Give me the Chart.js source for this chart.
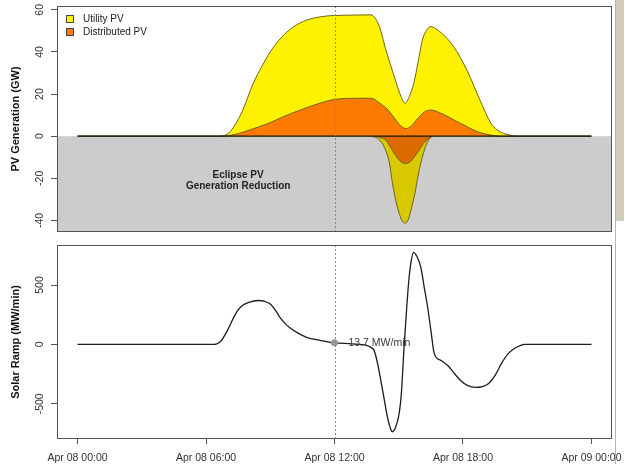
<!DOCTYPE html>
<html>
<head>
<meta charset="utf-8">
<script src="https://cdn.jsdelivr.net/npm/chart.js@4.4.1/dist/chart.umd.min.js"></script>
<style>
  body { margin: 0; background: #fff; width: 625px; height: 464px; overflow: hidden; position: relative; }
  #top_wrap { position: absolute; left: 0; top: 0; width: 625px; height: 240px; }
  #bottom_wrap { position: absolute; left: 0; top: 240px; width: 625px; height: 224px; }
  #edge_line { position: absolute; left: 615px; top: 0; width: 1px; height: 464px; background: #b5b5b5; }
  #edge_band { position: absolute; left: 616px; top: 0; width: 8px; height: 221px; background: #cfccb8; }
</style>
</head>
<body>
<div id="top_wrap"><canvas id="pv_generation" width="625" height="240"></canvas></div>
<div id="bottom_wrap"><canvas id="solar_ramp" width="625" height="224"></canvas></div>
<div id="edge_band"></div>
<div id="edge_line"></div>
<script>
// --- data (hours since Apr 08 00:00) ---
const utility_hours = [0, 6.5, 7.0, 7.3, 7.7, 8.2, 8.6, 9.0, 9.4, 9.9, 10.4, 11.0, 11.6, 12.0, 13.0, 13.7, 13.9, 14.1, 14.4, 14.8, 15.1, 15.3, 15.5, 15.7, 15.9, 16.1, 16.35, 16.5, 16.8, 17.2, 17.6, 18.2, 18.8, 19.3, 19.6, 19.9, 20.3, 20.5, 24];
const utility_gw = [0, 0, 1, 4.5, 12, 25, 33, 40, 45.5, 50.5, 53.8, 56, 57, 57.3, 57.5, 57.6, 56, 52, 41, 28, 19, 15.7, 19, 25, 35, 45.5, 51, 52, 50.5, 47, 42, 31, 17, 6.2, 2.9, 1.3, 0.3, 0, 0];

const distributed_hours = [0, 6.8, 7.2, 7.6, 8.2, 8.9, 9.6, 10.4, 11.2, 12.0, 13.0, 13.7, 14.1, 14.5, 14.8, 15.1, 15.35, 15.6, 15.9, 16.2, 16.5, 16.9, 17.6, 18.1, 18.5, 18.9, 19.3, 19.7, 24];
const distributed_gw = [0, 0, 0.5, 1.5, 3.5, 6, 9.2, 12.4, 15.3, 17.4, 18, 18, 15.8, 12.4, 8.5, 4.8, 3.6, 5, 8.5, 11.5, 12.4, 11.2, 7.6, 5, 2.9, 1.4, 0.5, 0, 0];

const eclipse_total_hours = [13.7, 14.0, 14.2, 14.4, 14.55, 14.7, 14.85, 15.0, 15.15, 15.3, 15.45, 15.6, 15.75, 15.9, 16.05, 16.2, 16.35, 16.5, 16.6];
const eclipse_total_gw = [0, -1, -3, -7, -12, -22, -30, -36, -40, -41.3, -39.5, -34, -27.5, -19, -12, -6.5, -2.5, -0.5, 0];

const eclipse_dist_hours = [13.9, 14.2, 14.4, 14.7, 14.95, 15.15, 15.35, 15.55, 15.75, 15.95, 16.15, 16.3, 16.5, 16.6];
const eclipse_dist_gw = [0, -0.8, -1.9, -6.7, -10.5, -12.5, -13, -12, -9.5, -6.7, -3.5, -1.9, -0.3, 0];

const ramp_hours = [0, 6.4, 6.7, 7.0, 7.3, 7.5, 7.7, 8.0, 8.45, 8.75, 9.0, 9.25, 9.45, 9.7, 9.9, 10.3, 10.7, 11.3, 12.0, 12.8, 13.5, 13.7, 13.85, 14.0, 14.16, 14.3, 14.47, 14.6, 14.7, 14.85, 15.02, 15.12, 15.24, 15.35, 15.47, 15.58, 15.69, 15.85, 16.03, 16.2, 16.35, 16.5, 16.66, 16.97, 17.3, 17.6, 17.9, 18.2, 18.6, 18.9, 19.2, 19.5, 19.8, 20.1, 20.4, 20.7, 20.85, 24];
const ramp_mw_min = [0, 0, 30, 118, 230, 290, 328, 355, 370, 362, 340, 285, 227, 175, 143, 95, 60, 35, 13.7, 5, -8, -25, -50, -150, -300, -440, -610, -700, -735, -700, -580, -420, -50, 250, 538, 700, 775, 740, 650, 470, 313, 120, -77, -134, -180, -245, -305, -345, -362, -355, -328, -260, -160, -80, -34, -8, 0, 0];

const noon_marker = { hour: 12, value: 13.7, text: '13.7 MW/min' };

const x_tick_hours = [0, 6, 12, 18, 24];
const x_tick_labels = ['Apr 08 00:00', 'Apr 08 06:00', 'Apr 08 12:00', 'Apr 08 18:00', 'Apr 09 00:00'];
const pv_y_ticks = [-40, -20, 0, 20, 40, 60];
const ramp_y_ticks = [-500, 0, 500];

const legend_labels = ['Utility PV', 'Distributed PV'];
const legend_colors = ['#fff200', '#ff7a00'];

// --- helpers ---
const font_family = '"Liberation Sans", Arial, sans-serif';
const outline = '#6e6320';
const pts = (hs, vs) => hs.map((h, i) => ({ x: h, y: vs[i] }));

const frame_plugin = {
  id: 'frame_plugin',
  afterDraw(chart) {
    const { ctx, chartArea: a } = chart;
    ctx.save();
    ctx.strokeStyle = '#555';
    ctx.lineWidth = 1;
    ctx.strokeRect(Math.round(a.left) + 0.5, Math.round(a.top) + 0.5, Math.round(a.right - a.left) - 1, Math.round(a.bottom - a.top) - 1);
    ctx.restore();
  }
};

const rotated_y_labels = {
  id: 'rotated_y_labels',
  afterDraw(chart) {
    const ctx = chart.ctx;
    const y = chart.scales.y;
    ctx.save();
    ctx.font = `10.5px ${font_family}`;
    ctx.fillStyle = '#333';
    ctx.textAlign = 'center';
    ctx.textBaseline = 'middle';
    y.ticks.forEach(t => {
      ctx.save();
      ctx.translate(40, y.getPixelForValue(t.value));
      ctx.rotate(-Math.PI / 2);
      ctx.fillText(String(t.value), 0, 0);
      ctx.restore();
    });
    ctx.restore();
  }
};

const noon_line = {
  id: 'noon_line',
  afterDatasetsDraw(chart) {
    const { ctx, chartArea: a } = chart;
    const px = Math.round(chart.scales.x.getPixelForValue(12)) + 0.5;
    ctx.save();
    ctx.strokeStyle = '#8a8a8a';
    ctx.lineWidth = 1;
    ctx.setLineDash([2, 2]);
    ctx.beginPath();
    ctx.moveTo(px, a.top);
    ctx.lineTo(px, a.bottom);
    ctx.stroke();
    ctx.restore();
  }
};

const reduction_shade = {
  id: 'reduction_shade',
  beforeDatasetsDraw(chart) {
    const { ctx, chartArea: a } = chart;
    const y0 = chart.scales.y.getPixelForValue(0);
    ctx.save();
    ctx.fillStyle = '#cccccc';
    ctx.fillRect(a.left, y0, a.right - a.left, a.bottom - y0);
    ctx.font = `bold 10px ${font_family}`;
    ctx.fillStyle = '#222';
    ctx.textAlign = 'center';
    ctx.textBaseline = 'middle';
    const cx = chart.scales.x.getPixelForValue(7.5);
    ctx.fillText('Eclipse PV', cx, chart.scales.y.getPixelForValue(-18.6));
    ctx.fillText('Generation Reduction', cx, chart.scales.y.getPixelForValue(-23.9));
    ctx.restore();
  }
};

const pv_legend = {
  id: 'pv_legend',
  afterDatasetsDraw(chart) {
    const { ctx, chartArea: a } = chart;
    ctx.save();
    ctx.font = `10px ${font_family}`;
    ctx.textAlign = 'left';
    ctx.textBaseline = 'middle';
    legend_labels.forEach((t, i) => {
      const cy = a.top + 13 + i * 13;
      ctx.fillStyle = legend_colors[i];
      ctx.fillRect(a.left + 9.5, cy - 3.5, 7, 7);
      ctx.strokeStyle = '#444';
      ctx.lineWidth = 1;
      ctx.strokeRect(a.left + 9.5, cy - 3.5, 7, 7);
      ctx.fillStyle = '#222';
      ctx.fillText(t, a.left + 26, cy);
    });
    ctx.restore();
  }
};

const marker_text = {
  id: 'marker_text',
  afterDatasetsDraw(chart) {
    const ctx = chart.ctx;
    const px = chart.scales.x.getPixelForValue(noon_marker.hour);
    const py = chart.scales.y.getPixelForValue(noon_marker.value);
    ctx.save();
    ctx.font = `10.5px ${font_family}`;
    ctx.fillStyle = '#3a3a3a';
    ctx.textAlign = 'left';
    ctx.textBaseline = 'middle';
    ctx.fillText(noon_marker.text, px + 14, py);
    ctx.restore();
  }
};

const y_axis = (min, max, ticks, title) => ({
  type: 'linear',
  min: min,
  max: max,
  afterBuildTicks: (s) => { s.ticks = ticks.map(v => ({ value: v })); },
  afterFit: (s) => { s.width = 57; },
  ticks: { display: false },
  grid: { drawOnChartArea: false, drawTicks: true, tickLength: 6, color: '#555' },
  border: { display: false },
  title: { display: true, text: title, color: '#111', font: { family: font_family, size: 11, weight: 'bold' }, padding: { top: 9, bottom: 0 } }
});

// --- top chart: PV generation ---
new Chart(document.getElementById('pv_generation'), {
  type: 'line',
  data: {
    datasets: [
      { label: 'Utility PV', data: pts(utility_hours, utility_gw), backgroundColor: legend_colors[0], borderColor: outline, borderWidth: 1, fill: 'origin', order: 3 },
      { label: 'Distributed PV', data: pts(distributed_hours, distributed_gw), backgroundColor: legend_colors[1], borderColor: outline, borderWidth: 1, fill: 'origin', order: 2 },
      { label: 'Eclipse utility', data: pts(eclipse_total_hours, eclipse_total_gw), backgroundColor: '#d8c800', borderColor: outline, borderWidth: 1, fill: 'origin', order: 3 },
      { label: 'Eclipse distributed', data: pts(eclipse_dist_hours, eclipse_dist_gw), backgroundColor: '#dd6a00', borderColor: outline, borderWidth: 1, fill: 'origin', order: 2 },
      { label: 'zero', data: pts([0, 24], [0, 0]), borderColor: '#111', borderWidth: 1.2, fill: false, order: 0 }
    ]
  },
  options: {
    responsive: false,
    animation: false,
    events: [],
    elements: { point: { radius: 0 }, line: { cubicInterpolationMode: 'monotone' } },
    layout: { padding: { top: 6, right: 13, bottom: 8, left: 0 } },
    scales: {
      x: { type: 'linear', min: -0.96, max: 24.96, display: false },
      y: y_axis(-45.5, 61.8, pv_y_ticks, 'PV Generation (GW)')
    },
    plugins: { legend: { display: false }, tooltip: { enabled: false } }
  },
  plugins: [reduction_shade, noon_line, pv_legend, frame_plugin, rotated_y_labels]
});

// --- bottom chart: solar ramp ---
new Chart(document.getElementById('solar_ramp'), {
  type: 'line',
  data: {
    datasets: [
      { label: 'ramp', data: pts(ramp_hours, ramp_mw_min), borderColor: '#1c1c1c', borderWidth: 1.3, fill: false, order: 1 },
      { label: 'noon', data: [{ x: noon_marker.hour, y: noon_marker.value }], showLine: false, pointRadius: 3, pointBackgroundColor: '#999', pointBorderColor: '#888', order: 0 }
    ]
  },
  options: {
    responsive: false,
    animation: false,
    events: [],
    elements: { point: { radius: 0 }, line: { cubicInterpolationMode: 'monotone' } },
    layout: { padding: { top: 4, right: 13, bottom: 0, left: 0 } },
    scales: {
      x: {
        type: 'linear',
        min: -0.96,
        max: 24.96,
        afterBuildTicks: (s) => { s.ticks = x_tick_hours.map(v => ({ value: v })); },
        afterFit: (s) => { s.height = 25; s.paddingLeft = 0; s.paddingRight = 0; },
        ticks: {
          autoSkip: false, maxRotation: 0, padding: 8, color: '#333',
          font: { family: font_family, size: 10.5 },
          callback: (v) => x_tick_labels[x_tick_hours.indexOf(v)]
        },
        grid: { drawOnChartArea: false, drawTicks: true, tickLength: 5, color: '#555' },
        border: { display: false }
      },
      y: y_axis(-796, 837, ramp_y_ticks, 'Solar Ramp (MW/min)')
    },
    plugins: { legend: { display: false }, tooltip: { enabled: false } }
  },
  plugins: [noon_line, marker_text, frame_plugin, rotated_y_labels]
});
</script>
</body>
</html>
